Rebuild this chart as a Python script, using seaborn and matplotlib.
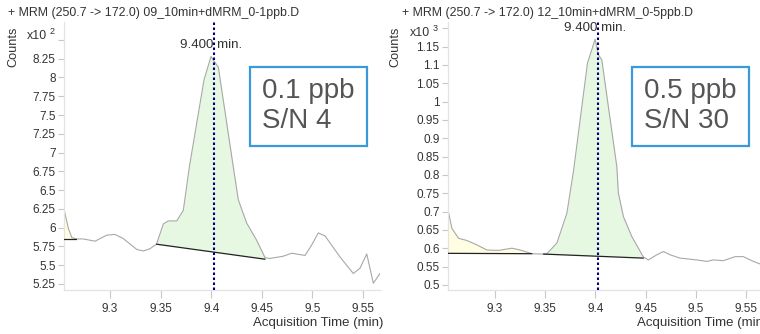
import numpy as np
import matplotlib
matplotlib.use("Agg")
import matplotlib.pyplot as plt
import seaborn as sns
from matplotlib.patches import Rectangle

sns.set_style("white")
plt.rcParams['font.family'] = ['Liberation Sans', 'DejaVu Sans']

# ---- 0.1 ppb trace (counts x10^2) ----
t_low = [9.2548, 9.2588, 9.2622, 9.2664, 9.2736, 9.2852, 9.2967, 9.3049, 9.3131,
         9.3264, 9.3329, 9.3395, 9.3459, 9.3527, 9.3576, 9.3659, 9.3724, 9.3784,
         9.3929, 9.3998, 9.4021, 9.4070, 9.4218, 9.4268, 9.4351, 9.4450, 9.4532,
         9.4581, 9.4712, 9.4795, 9.4927, 9.4993, 9.5058, 9.5125, 9.5273, 9.5404,
         9.5470, 9.5537, 9.5602, 9.5668]
c_low = [6.23, 5.99, 5.87, 5.85, 5.85, 5.82, 5.90, 5.91, 5.855,
         5.71, 5.69, 5.72, 5.78, 6.05, 6.09, 6.09, 6.23, 6.81,
         7.97, 8.28, 8.23, 8.14, 6.81, 6.37, 6.06, 5.83, 5.60,
         5.59, 5.62, 5.66, 5.63, 5.77, 5.93, 5.89, 5.61, 5.39,
         5.46, 5.65, 5.26, 5.39]
low_peak = (9.3459, 9.4532)        # integration limits
low_base = (5.78, 5.58)            # baseline counts at the limits
low_pre = (9.2548, 9.2664)         # small integrated region at the start
low_pre_base = (5.855, 5.855)
low_yticks = [5.25, 5.5, 5.75, 6, 6.25, 6.5, 6.75, 7, 7.25, 7.5, 7.75, 8, 8.25, 8.5]

# ---- 0.5 ppb trace (counts x10^3) ----
t_high = [9.2538, 9.2577, 9.2643, 9.2726, 9.2825, 9.2925, 9.3040, 9.3173, 9.3255,
          9.3371, 9.3486, 9.3520, 9.3619, 9.3718, 9.3784, 9.3923, 9.3999, 9.4032,
          9.4065, 9.4214, 9.4230, 9.4280, 9.4363, 9.4478, 9.4528, 9.4611, 9.4677,
          9.4743, 9.4842, 9.5008, 9.5107, 9.5173, 9.5272, 9.5388, 9.5470, 9.5570,
          9.5636]
c_high = [0.705, 0.654, 0.627, 0.621, 0.609, 0.595, 0.594, 0.600, 0.595,
          0.585, 0.584, 0.585, 0.614, 0.695, 0.810, 1.105, 1.170, 1.127,
          1.114, 0.823, 0.750, 0.686, 0.632, 0.576, 0.568, 0.582, 0.591,
          0.582, 0.573, 0.568, 0.564, 0.568, 0.566, 0.577, 0.577, 0.564,
          0.557]
high_peak = (9.3486, 9.4478)
high_base = (0.584, 0.573)
high_pre = (9.2538, 9.3371)
high_pre_base = (0.586, 0.585)
high_yticks = [0.5, 0.55, 0.6, 0.65, 0.7, 0.75, 0.8, 0.85, 0.9, 0.95, 1, 1.05, 1.1, 1.15, 1.2]

x_ticks = [9.3, 9.35, 9.4, 9.45, 9.5, 9.55]
rt_marker = 9.4025

panels = [
    dict(t=t_low, c=c_low, peak=low_peak, base=low_base, pre=low_pre, pre_base=low_pre_base,
         ylim=(5.17, 8.739), yticks=low_yticks, exp='2',
         title='+ MRM (250.7 -> 172.0) 09_10min+dMRM_0-1ppb.D', title_x=-0.177,
         box=['0.1 ppb', 'S/N 4'], box_x=0.589, box_w=0.37,
         rect=[64 / 760, 44 / 334, 316 / 760, 268 / 334], xlim=(9.2545, 9.5668),
         counts_x=-0.161, x10=(-0.117, 0.948), exp_xy=(-0.046, 0.963), xlab_x=0.598),
    dict(t=t_high, c=c_high, peak=high_peak, base=high_base, pre=high_pre, pre_base=high_pre_base,
         ylim=(0.486, 1.217), yticks=high_yticks, exp='3',
         title='+ MRM (250.7 -> 172.0) 12_10min+dMRM_0-5ppb.D', title_x=-0.148,
         box=['0.5 ppb', 'S/N 30'], box_x=0.591, box_w=0.375,
         rect=[448 / 760, 44 / 334, 312 / 760, 268 / 334], xlim=(9.2538, 9.5636),
         counts_x=-0.170, x10=(-0.122, 0.959), exp_xy=(-0.050, 0.974), xlab_x=0.606),
]

fig = plt.figure(figsize=(7.6, 3.34), dpi=100)
grey = '#333333'


def fill_region(ax, t, c, lo, hi, base, color):
    t = np.asarray(t)
    c = np.asarray(c)
    xs = np.linspace(lo, hi, 200)
    ys = np.interp(xs, t, c)
    bl = np.interp(xs, [lo, hi], base)
    ax.fill_between(xs, bl, ys, color=color, lw=0, zorder=1)
    ax.plot([lo, hi], base, color='#222222', lw=0.9, zorder=3)


for p in panels:
    ax = fig.add_axes(p['rect'])
    fill_region(ax, p['t'], p['c'], *p['pre'], p['pre_base'], '#fffde2')
    fill_region(ax, p['t'], p['c'], *p['peak'], p['base'], '#e6f7e2')
    sns.lineplot(x=p['t'], y=p['c'], ax=ax, color='#a8a8a8', lw=0.8, zorder=2)
    ax.axvline(rt_marker, color='#00007a', ls=(0, (1.2, 1.2)), lw=1.5, zorder=4)

    ax.set_xlim(*p['xlim'])
    ax.set_ylim(*p['ylim'])
    ax.set_xticks(x_ticks, ['%g' % v for v in x_ticks])
    # the top tick is hidden behind the multiplier label
    ax.set_yticks(p['yticks'], ['%g' % v for v in p['yticks'][:-1]] + [''])
    ax.tick_params(axis='both', labelsize=8.5, colors='#c8c8c8', labelcolor=grey,
                   width=0.8, direction='out', left=True, bottom=True)
    ax.tick_params(axis='y', length=4, pad=2)
    ax.tick_params(axis='x', length=6, pad=3)
    for s in ['top', 'right']:
        ax.spines[s].set_visible(False)
    for s in ['left', 'bottom']:
        ax.spines[s].set_color('#e3e3e3')
        ax.spines[s].set_linewidth(0.9)
    ax.set_xlabel('')
    ax.set_ylabel('')

    # peak label
    ymax = max(p['c'])
    ax.annotate('9.400 min.', (rt_marker - 0.003, ymax), xytext=(0, 4), textcoords='offset points',
                ha='center', va='bottom', fontsize=9.6, color=grey)

    # titles, axis labels, multiplier
    ax.text(p['title_x'], (290 - 13) / 268, p['title'], transform=ax.transAxes,
            fontsize=8.9, color=grey, ha='left', va='center')
    ax.text(p['counts_x'], (290 - 47) / 268, 'Counts', transform=ax.transAxes, rotation=90,
            fontsize=9.1, color=grey, ha='center', va='center')
    ax.text(*p['x10'], 'x10', transform=ax.transAxes, fontsize=8.9, color=grey,
            ha='left', va='center')
    ax.text(*p['exp_xy'], p['exp'], transform=ax.transAxes, fontsize=6.5, color=grey,
            ha='left', va='center')
    ax.text(p['xlab_x'], (290 - 323) / 268, 'Acquisition Time (min)', transform=ax.transAxes,
            fontsize=9.5, color=grey, ha='left', va='center', clip_on=False)

    # annotation box
    ax.add_patch(Rectangle((p['box_x'], (290 - 146) / 268), p['box_w'], 79 / 268,
                           transform=ax.transAxes, fc='white', ec='#3a9ad9', lw=1.6, zorder=5))
    ax.text(p['box_x'] + 12 / 316, (290 - 106) / 268, '\n'.join(p['box']), fontsize=20,
            color='#555555', linespacing=1.15, ha='left', va='center',
            transform=ax.transAxes, zorder=6)

fig.savefig('out.png', dpi=100)
